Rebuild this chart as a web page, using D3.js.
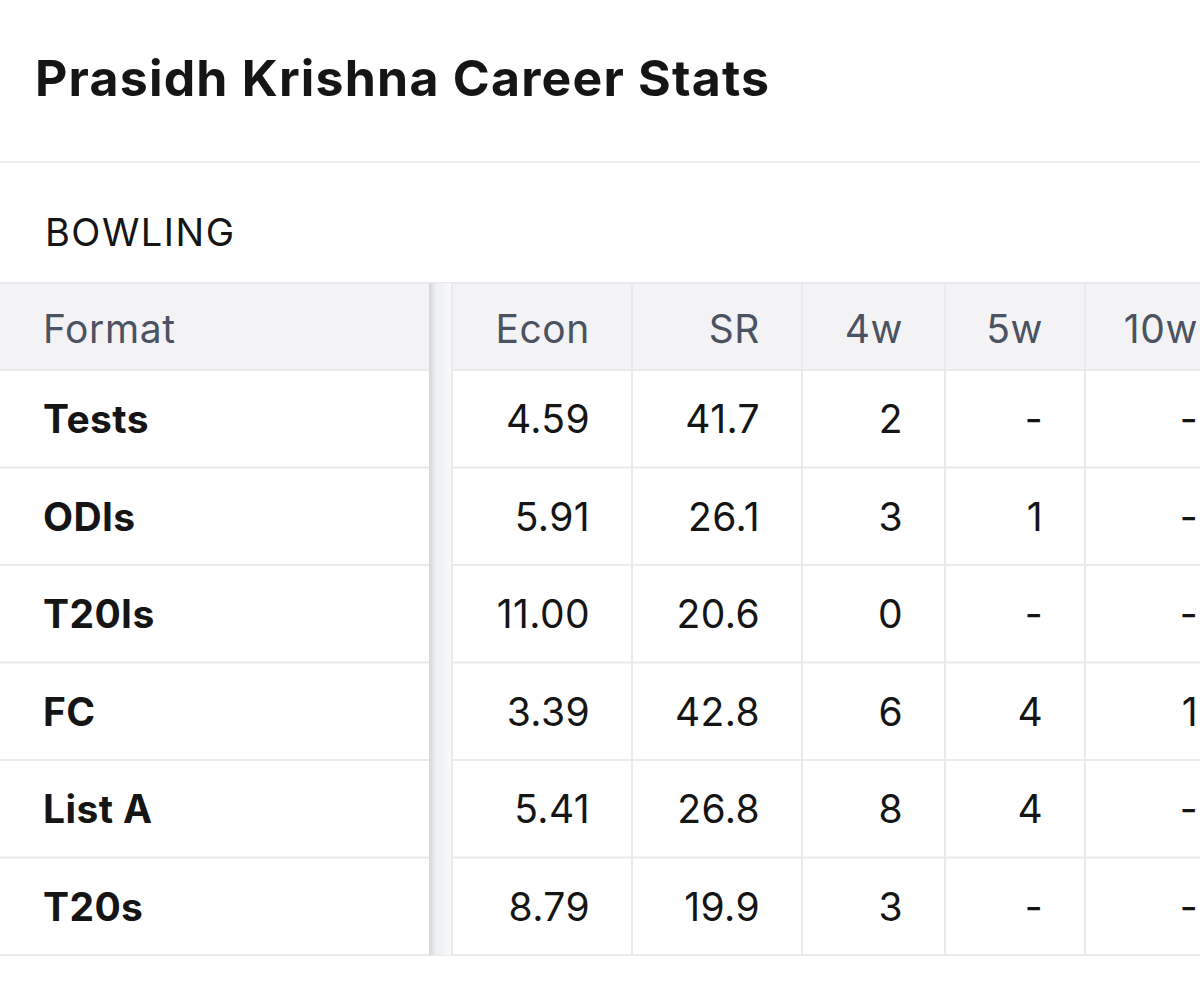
<!DOCTYPE html>
<html><head><meta charset="utf-8">
<script src="https://cdn.jsdelivr.net/npm/d3@7"></script>
<style>body{margin:0;background:#fff;overflow:hidden}svg{display:block;font-family:Inter,"Noto Sans",sans-serif}</style>
</head><body>
<script>
var formats = ['Tests', 'ODIs', 'T20Is', 'FC', 'List A', 'T20s'];
var columns = ['Econ', 'SR', '4w', '5w', '10w'];
var econ = ['4.59', '5.91', '11.00', '3.39', '5.41', '8.79'];
var sr = ['41.7', '26.1', '20.6', '42.8', '26.8', '19.9'];
var fourW = ['2', '3', '0', '6', '8', '3'];
var fiveW = ['-', '1', '-', '4', '4', '-'];
var tenW = ['-', '-', '-', '1', '-', '-'];
var values = [econ, sr, fourW, fiveW, tenW];

var W = 1200, H = 989;
var svg = d3.select('body').append('svg').attr('width', W).attr('height', H);

svg.append('text').attr('x', 35).attr('y', 96)
  .attr('font-size', 50).attr('font-weight', 700).attr('fill', '#151515')
  .attr('letter-spacing', 1.2)
  .text('Prasidh Krishna Career Stats');
svg.append('rect').attr('x', 0).attr('y', 161).attr('width', W).attr('height', 2).attr('fill', '#ebedf0');
svg.append('text').attr('x', 45).attr('y', 246)
  .attr('font-size', 38).attr('letter-spacing', 1.5).attr('fill', '#151515').text('BOWLING');

// column edges
var edges = [0, 430, 632, 802, 945, 1085, 1240];
function rowTop(k) { return k === 'head' ? 283 : 370 + formats.indexOf(k) * 97.5; }
function rowH(k) { return k === 'head' ? 87 : 97.5; }

var g = svg.append('g');
g.append('rect').attr('x', 0).attr('y', 283).attr('width', W).attr('height', 87).attr('fill', '#f3f3f5');
var rowKeys = ['head'].concat(formats);
g.selectAll('line.h').data(rowKeys).join('line')
  .attr('x1', 0).attr('x2', W)
  .attr('y1', function(d) { return rowTop(d) + rowH(d); })
  .attr('y2', function(d) { return rowTop(d) + rowH(d); })
  .attr('stroke', '#e8eaee').attr('stroke-width', 2);
g.append('line').attr('x1', 0).attr('x2', W).attr('y1', 283).attr('y2', 283).attr('stroke', '#e8eaee').attr('stroke-width', 2);
g.selectAll('line.v').data(edges.slice(2, 6)).join('line')
  .attr('x1', function(d) { return d; }).attr('x2', function(d) { return d; })
  .attr('y1', 283).attr('y2', 955).attr('stroke', '#e8eaee').attr('stroke-width', 2);

// sticky column shadow
var grad = svg.append('defs').append('linearGradient').attr('id', 'sh');
grad.append('stop').attr('offset', '0').attr('stop-color', '#d4d6da');
grad.append('stop').attr('offset', '0.3').attr('stop-color', '#eceef0');
grad.append('stop').attr('offset', '1').attr('stop-color', '#fafafb');
g.append('rect').attr('x', 429).attr('y', 283).attr('width', 23).attr('height', 672).attr('fill', 'url(#sh)');
g.append('line').attr('x1', 452).attr('x2', 452).attr('y1', 283).attr('y2', 955).attr('stroke', '#e8eaee').attr('stroke-width', 2);

var fs = 39;
g.append('text').attr('x', 43).attr('y', 343).attr('font-size', fs).attr('letter-spacing', 0.6).attr('fill', '#4b5262').text('Format');
g.selectAll('text.ch').data(columns).join('text')
  .attr('x', function(d, i) { return edges[i + 2] - 42; }).attr('y', 343)
  .attr('text-anchor', 'end').attr('font-size', fs).attr('letter-spacing', 0.6).attr('fill', '#4b5262')
  .text(function(d) { return d; });

g.selectAll('text.rl').data(formats).join('text')
  .attr('x', 43).attr('y', function(d) { return rowTop(d) + 63; })
  .attr('font-size', fs).attr('font-weight', 700).attr('letter-spacing', 0.4).attr('fill', '#151515')
  .text(function(d) { return d; });
values.forEach(function(col, c) {
  g.selectAll('text.c' + c).data(col).join('text')
    .attr('x', edges[c + 2] - 42)
    .attr('y', function(d, i) { return rowTop(formats[i]) + 63; })
    .attr('text-anchor', 'end').attr('font-size', fs).attr('letter-spacing', 0.4).attr('fill', '#151515')
    .text(function(d) { return d; });
});
</script>
</body></html>
